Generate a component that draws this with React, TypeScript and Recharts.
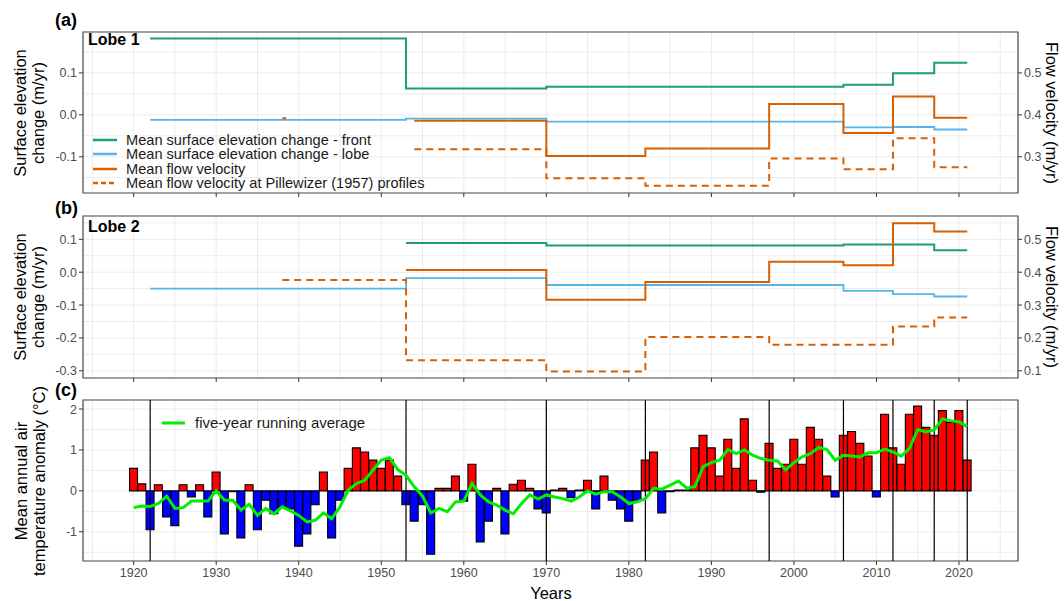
import React from 'react';
import { ComposedChart, Line, Bar, Cell, XAxis, YAxis, CartesianGrid, ReferenceLine, ReferenceArea } from 'recharts';

const FONT = '"Liberation Sans", Arial, Helvetica, sans-serif';

// ---------- shared x axis ----------
const X_DOMAIN: [number, number] = [1913.86, 2027.15];
const X_MAJOR = [1920, 1930, 1940, 1950, 1960, 1970, 1980, 1990, 2000, 2010, 2020];
const X_MINOR = [1915, 1925, 1935, 1945, 1955, 1965, 1975, 1985, 1995, 2005, 2015, 2025];

// ---------- panel (a) Lobe 1 ----------
const A_LEFT_DOMAIN: [number, number] = [-0.1864, 0.1976];
const A_RIGHT_DOMAIN: [number, number] = [0.2136, 0.5976];
const A_LEFT_MAJOR = [-0.1, 0, 0.1];
const A_LEFT_MINOR = [-0.15, -0.05, 0.05, 0.15];
const A_RIGHT_TICKS = [0.3, 0.4, 0.5];

const frontAYears = [1922, 1953, 1970, 2006, 2012, 2017, 2021];
const frontAValues = [0.182, 0.063, 0.067, 0.072, 0.099, 0.124, 0.124];
const lobeAYears = [1922, 1953, 1970, 2006, 2012, 2017, 2021];
const lobeAValues = [-0.012, -0.009, -0.016, -0.030, -0.029, -0.035, -0.035];
const velAYears = [1954, 1970, 1982, 1997, 2006, 2012, 2017, 2021];
const velAValues = [0.386, 0.302, 0.320, 0.426, 0.357, 0.444, 0.393, 0.393];
const pilAYears = [1954, 1970, 1982, 1997, 2006, 2012, 2017, 2021];
const pilAValues = [0.318, 0.249, 0.231, 0.296, 0.270, 0.344, 0.275, 0.275];
const pilAEarlyYears = [1938, 1938.5];
const pilAEarlyValues = [0.392, 0.392];

// ---------- panel (b) Lobe 2 ----------
const B_LEFT_DOMAIN: [number, number] = [-0.322, 0.171];
const B_RIGHT_DOMAIN: [number, number] = [0.078, 0.571];
const B_LEFT_MAJOR = [-0.3, -0.2, -0.1, 0, 0.1];
const B_LEFT_MINOR = [-0.25, -0.15, -0.05, 0.05, 0.15];
const B_RIGHT_TICKS = [0.1, 0.2, 0.3, 0.4, 0.5];

const frontBYears = [1953, 1970, 2006, 2017, 2021];
const frontBValues = [0.089, 0.081, 0.084, 0.067, 0.067];
const lobeBYears = [1922, 1953, 1970, 2006, 2012, 2017, 2021];
const lobeBValues = [-0.050, -0.018, -0.039, -0.057, -0.067, -0.074, -0.074];
const velBYears = [1953, 1970, 1982, 1997, 2006, 2012, 2017, 2021];
const velBValues = [0.407, 0.316, 0.370, 0.432, 0.421, 0.549, 0.524, 0.524];
const pilBYears = [1938, 1953, 1970, 1982, 1997, 2012, 2017, 2021];
const pilBValues = [0.376, 0.132, 0.098, 0.203, 0.179, 0.235, 0.262, 0.262];

// ---------- panel (c) temperature ----------
const C_DOMAIN: [number, number] = [-1.714, 2.22];
const C_MAJOR = [-1, 0, 1, 2];
const C_MINOR = [-1.5, -0.5, 0.5, 1.5];
const tempStartYear = 1920;
const tempAnomaly = [
  0.55, 0.17, -0.95, 0.15, -0.64, -0.85, 0.15, -0.15, 0.15, -0.64,
  0.46, -1.05, -0.02, -1.15, 0.15, -0.95, -0.23, -0.56, -0.40, -0.44,
  -1.35, -1.05, -0.34, 0.46, -1.15, -0.23, 0.55, 1.05, 0.95, 0.75,
  0.55, 0.75, 0.36, -0.34, -0.74, -0.34, -1.55, 0.06, 0.06, 0.36,
  -0.25, 0.65, -1.25, -0.74, 0.06, -1.05, 0.16, 0.26, 0.06, -0.44,
  -0.54, 0.02, 0.06, -0.17, 0.02, 0.26, -0.44, 0.36, -0.23, -0.44,
  -0.74, -0.23, 0.75, 0.95, -0.54, -0.02, 0.02, 0.02, 1.05, 1.36,
  1.05, 0.36, 1.26, 0.55, 1.76, 0.26, -0.03, 1.16, 0.55, 0.65,
  1.26, 0.65, 1.55, 1.26, 0.36, -0.15, 1.36, 1.45, 1.16, 0.85,
  -0.15, 1.87, 1.05, 0.65, 1.87, 2.07, 1.55, 1.36, 1.96, 1.67,
  1.96, 0.75,
];
const runningAvg = [
  -0.41, -0.37, -0.38, -0.31, -0.13, -0.43, -0.41, -0.25, -0.25, -0.25,
  0.0, -0.23, -0.23, -0.47, -0.33, -0.6, -0.43, -0.56, -0.39, -0.49,
  -0.6, -0.76, -0.72, -0.54, -0.68, -0.39, 0.02, 0.18, 0.26, 0.51,
  0.75, 0.81, 0.52, 0.38, 0.1, -0.13, -0.54, -0.43, -0.51, -0.27,
  -0.25, 0.18, -0.1, -0.27, -0.35, -0.47, -0.56, -0.31, -0.1, -0.2,
  -0.1, -0.15, -0.19, -0.25, -0.15, 0.0, -0.08, -0.02, -0.02, -0.15,
  -0.31, -0.27, -0.19, 0.06, 0.04, 0.14, 0.24, 0.07, 0.1, 0.59,
  0.69, 0.75, 1.01, 0.91, 1.0, 0.87, 0.79, 0.75, 0.73, 0.51,
  0.69, 0.83, 0.91, 1.06, 1.01, 0.75, 0.87, 0.85, 0.83, 0.93,
  0.93, 1.02, 0.95, 0.85, 1.04, 1.5, 1.44, 1.49, 1.76, 1.71,
  1.69, 1.57,
];
const periodBoundaryYears = [1922, 1953, 1970, 1982, 1997, 2006, 2012, 2017, 2021];

// ---------- colours ----------
const GREEN = '#1b9e77';
const BLUE = '#56B4E9';
const ORANGE = '#D95F02';
const RUNAVG = '#00EE00';

const toSteps = (xs: number[], vs: number[]) => xs.map((x, i) => ({ x, v: vs[i] }));
const tempData = tempAnomaly.map((t, i) => ({ x: tempStartYear + i, t, avg: runningAvg[i] }));

const isIn = (arr: number[], v: number) => arr.some((m) => Math.abs(m - v) < 1e-6);

const makeXTick = (showLabel: boolean) => (props: any) => {
  const { x, y, payload } = props;
  const v = payload.value;
  if (!isIn(X_MAJOR, v)) return <g />;
  return (
    <g>
      <line x1={x} x2={x} y1={y} y2={y + 4} stroke="#333" strokeWidth={1} />
      {showLabel && (
        <text x={x} y={y + 6} dy="0.8em" textAnchor="middle" fontSize={12.5} fill="#4D4D4D" fontFamily={FONT}>
          {v}
        </text>
      )}
    </g>
  );
};

const makeLeftTick = (major: number[], fmt: (v: number) => string) => (props: any) => {
  const { x, y, payload } = props;
  const v = payload.value;
  if (!isIn(major, v)) return <g />;
  return (
    <g>
      <line x1={x - 4} x2={x} y1={y} y2={y} stroke="#333" strokeWidth={1} />
      <text x={x - 6} y={y} dy="0.36em" textAnchor="end" fontSize={12.5} fill="#4D4D4D" fontFamily={FONT}>
        {fmt(v)}
      </text>
    </g>
  );
};

const makeRightTick = (fmt: (v: number) => string) => (props: any) => {
  const { x, y, payload } = props;
  const v = payload.value;
  return (
    <g>
      <line x1={x} x2={x + 4} y1={y} y2={y} stroke="#333" strokeWidth={1} />
      <text x={x + 6} y={y} dy="0.36em" textAnchor="start" fontSize={12.5} fill="#4D4D4D" fontFamily={FONT}>
        {fmt(v)}
      </text>
    </g>
  );
};

const fmt1 = (v: number) => (Math.abs(v) < 1e-9 ? '0.0' : v.toFixed(1));
const fmt0 = (v: number) => String(Math.round(v));

const textStyle: React.CSSProperties = { position: 'absolute', fontFamily: FONT, whiteSpace: 'nowrap' };

function LeftTitle({ lines, cx, cy }: { lines: string[]; cx: number; cy: number }) {
  return (
    <div
      style={{
        ...textStyle,
        left: cx,
        top: cy,
        width: 240,
        textAlign: 'center',
        fontSize: 16.5,
        lineHeight: '18px',
        color: '#000',
        transform: 'translate(-50%, -50%) rotate(-90deg)',
      }}
    >
      {lines.map((l) => (
        <div key={l}>{l}</div>
      ))}
    </div>
  );
}

function RightTitle({ text, cx, cy }: { text: string; cx: number; cy: number }) {
  return (
    <div
      style={{
        ...textStyle,
        left: cx,
        top: cy,
        width: 240,
        textAlign: 'center',
        fontSize: 16.5,
        lineHeight: '18px',
        color: '#000',
        transform: 'translate(-50%, -50%) rotate(90deg)',
      }}
    >
      {text}
    </div>
  );
}

function Tag({ text, left, cy, size }: { text: string; left: number; cy: number; size: number }) {
  return (
    <div style={{ ...textStyle, left, top: cy - size / 2, fontSize: size, lineHeight: `${size}px`, fontWeight: 700, color: '#000' }}>
      {text}
    </div>
  );
}

const legendItems = [
  { label: 'Mean surface elevation change - front', color: GREEN, dash: undefined as string | undefined },
  { label: 'Mean surface elevation change - lobe', color: BLUE, dash: undefined },
  { label: 'Mean flow velocity', color: ORANGE, dash: undefined },
  { label: 'Mean flow velocity at Pillewizer (1957) profiles', color: ORANGE, dash: '5 3' },
];

function stepLine(key: string, data: any[], color: string, yAxisId: string | number, width: number, dash?: string) {
  return (
    <Line
      key={key}
      data={data}
      dataKey="v"
      type="stepAfter"
      yAxisId={yAxisId}
      stroke={color}
      strokeWidth={width}
      strokeDasharray={dash}
      dot={false}
      activeDot={false}
      isAnimationActive={false}
      legendType="none"
    />
  );
}

const CHART_MARGIN_LR = { left: 23, right: 16 };

function PanelLines({
  top,
  height,
  marginTop,
  marginBottom,
  leftDomain,
  rightDomain,
  leftMajor,
  leftMinor,
  rightTicks,
  children,
}: any) {
  const leftTicks = [...leftMajor, ...leftMinor].sort((a: number, b: number) => a - b);
  return (
    <div style={{ position: 'absolute', left: 0, top }}>
      <ComposedChart
        width={1064}
        height={height}
        margin={{ top: marginTop, bottom: marginBottom, ...CHART_MARGIN_LR }}
      >
        <CartesianGrid stroke="#EBEBEB" strokeWidth={1} />
        <XAxis
          dataKey="x"
          type="number"
          domain={X_DOMAIN}
          ticks={[...X_MAJOR, ...X_MINOR].sort((a, b) => a - b)}
          interval={0}
          allowDataOverflow
          axisLine={false}
          tickLine={false}
          tickSize={0}
          tickMargin={0}
          height={13}
          tick={makeXTick(false)}
        />
        <YAxis
          type="number"
          domain={leftDomain}
          ticks={leftTicks}
          interval={0}
          allowDataOverflow
          axisLine={false}
          tickLine={false}
          tickSize={0}
          tickMargin={0}
          width={60}
          tick={makeLeftTick(leftMajor, fmt1)}
        />
        <YAxis
          yAxisId="r"
          orientation="right"
          type="number"
          domain={rightDomain}
          ticks={rightTicks}
          interval={0}
          allowDataOverflow
          axisLine={false}
          tickLine={false}
          tickSize={0}
          tickMargin={0}
          width={30}
          tick={makeRightTick(fmt1)}
        />
        {children}
        <ReferenceArea
          x1={X_DOMAIN[0]}
          x2={X_DOMAIN[1]}
          y1={leftDomain[0]}
          y2={leftDomain[1]}
          fill="none"
          fillOpacity={0}
          stroke="#4D4D4D"
          strokeWidth={1.2}
          ifOverflow="visible"
        />
      </ComposedChart>
    </div>
  );
}

export default function App() {
  return (
    <div style={{ position: 'absolute', left: 0, top: 0, width: 1064, height: 601, background: '#fff', overflow: 'hidden' }}>
      {/* Panel (a) */}
      <PanelLines
        top={0}
        height={206}
        marginTop={32}
        marginBottom={0}
        leftDomain={A_LEFT_DOMAIN}
        rightDomain={A_RIGHT_DOMAIN}
        leftMajor={A_LEFT_MAJOR}
        leftMinor={A_LEFT_MINOR}
        rightTicks={A_RIGHT_TICKS}
      >
        {stepLine('frontA', toSteps(frontAYears, frontAValues), GREEN, 0, 2)}
        {stepLine('lobeA', toSteps(lobeAYears, lobeAValues), BLUE, 0, 1.8)}
        {stepLine('pilAEarly', toSteps(pilAEarlyYears, pilAEarlyValues), ORANGE, 'r', 2)}
        {stepLine('pilA', toSteps(pilAYears, pilAValues), ORANGE, 'r', 2, '7 5')}
        {stepLine('velA', toSteps(velAYears, velAValues), ORANGE, 'r', 2)}
      </PanelLines>

      {/* Panel (b) */}
      <PanelLines
        top={200}
        height={192}
        marginTop={16}
        marginBottom={1}
        leftDomain={B_LEFT_DOMAIN}
        rightDomain={B_RIGHT_DOMAIN}
        leftMajor={B_LEFT_MAJOR}
        leftMinor={B_LEFT_MINOR}
        rightTicks={B_RIGHT_TICKS}
      >
        {stepLine('frontB', toSteps(frontBYears, frontBValues), GREEN, 0, 2)}
        {stepLine('lobeB', toSteps(lobeBYears, lobeBValues), BLUE, 0, 1.8)}
        {stepLine('pilB', toSteps(pilBYears, pilBValues), ORANGE, 'r', 2, '7 5')}
        {stepLine('velB', toSteps(velBYears, velBValues), ORANGE, 'r', 2)}
      </PanelLines>

      {/* Panel (c) */}
      <div style={{ position: 'absolute', left: 0, top: 388 }}>
        <ComposedChart width={1064} height={213} data={tempData} margin={{ top: 12, bottom: 10, left: 23, right: 46 }}>
          <CartesianGrid stroke="#EBEBEB" strokeWidth={1} />
          <XAxis
            dataKey="x"
            type="number"
            domain={X_DOMAIN}
            ticks={[...X_MAJOR, ...X_MINOR].sort((a, b) => a - b)}
            interval={0}
            allowDataOverflow
            axisLine={false}
            tickLine={false}
            tickSize={0}
            tickMargin={0}
            height={30}
            tick={makeXTick(true)}
          />
          <YAxis
            type="number"
            domain={C_DOMAIN}
            ticks={[...C_MAJOR, ...C_MINOR].sort((a, b) => a - b)}
            interval={0}
            allowDataOverflow
            axisLine={false}
            tickLine={false}
            tickSize={0}
            tickMargin={0}
            width={60}
            tick={makeLeftTick(C_MAJOR, fmt0)}
          />
          <Bar dataKey="t" barSize={8} stroke="#000" strokeWidth={1.1} isAnimationActive={false}>
            {tempData.map((d) => (
              <Cell key={d.x} fill={d.t >= 0 ? '#FF0000' : '#0000FF'} />
            ))}
          </Bar>
          {periodBoundaryYears.map((yr) => (
            <ReferenceLine key={yr} x={yr} stroke="#000" strokeWidth={1.2} ifOverflow="visible" />
          ))}
          <Line
            dataKey="avg"
            type="linear"
            stroke={RUNAVG}
            strokeWidth={3}
            dot={false}
            activeDot={false}
            isAnimationActive={false}
          />
          <ReferenceArea
            x1={X_DOMAIN[0]}
            x2={X_DOMAIN[1]}
            y1={C_DOMAIN[0]}
            y2={C_DOMAIN[1]}
            fill="none"
            fillOpacity={0}
            stroke="#4D4D4D"
            strokeWidth={1.2}
            ifOverflow="visible"
          />
        </ComposedChart>
      </div>

      {/* Tags & panel labels */}
      <Tag text="(a)" left={55} cy={20} size={18} />
      <Tag text="(b)" left={55} cy={208} size={18} />
      <Tag text="(c)" left={55} cy={390} size={18} />
      <Tag text="Lobe 1" left={88} cy={40} size={16} />
      <Tag text="Lobe 2" left={88} cy={226.5} size={16} />

      {/* Axis titles */}
      <LeftTitle lines={['Surface elevation', 'change (m/yr)']} cx={29} cy={112.5} />
      <LeftTitle lines={['Surface elevation', 'change (m/yr)']} cx={29} cy={297} />
      <LeftTitle lines={['Mean annual air', 'temperature anomaly (°C)']} cx={30} cy={480.5} />
      <RightTitle text="Flow velocity (m/yr)" cx={1052} cy={112.5} />
      <RightTitle text="Flow velocity (m/yr)" cx={1052} cy={297} />
      <div style={{ ...textStyle, left: 551, top: 593, transform: 'translate(-50%, -50%)', fontSize: 16.5, lineHeight: '18px', color: '#000' }}>Years</div>

      {/* Legend (a) */}
      <div style={{ position: 'absolute', left: 93, top: 140 - 7.2 }}>
        {legendItems.map((it) => (
          <div key={it.label} style={{ display: 'flex', alignItems: 'center', height: 14.4 }}>
            <svg width={24} height={14} style={{ display: 'block' }}>
              <line x1={0} x2={24} y1={7} y2={7} stroke={it.color} strokeWidth={2.5} strokeDasharray={it.dash} />
            </svg>
            <div style={{ fontFamily: FONT, fontSize: 14.6, lineHeight: '14.4px', height: 14.4, marginLeft: 9, color: '#1a1a1a', whiteSpace: 'nowrap' }}>
              {it.label}
            </div>
          </div>
        ))}
      </div>

      {/* Legend (c) */}
      <div style={{ position: 'absolute', left: 162, top: 423.3 - 8, display: 'flex', alignItems: 'center', height: 16 }}>
        <svg width={23} height={16} style={{ display: 'block' }}>
          <line x1={0} x2={23} y1={8} y2={8} stroke={RUNAVG} strokeWidth={3} />
        </svg>
        <div style={{ fontFamily: FONT, fontSize: 15, lineHeight: '16px', marginLeft: 10, color: '#1a1a1a', whiteSpace: 'nowrap' }}>
          five-year running average
        </div>
      </div>
    </div>
  );
}
